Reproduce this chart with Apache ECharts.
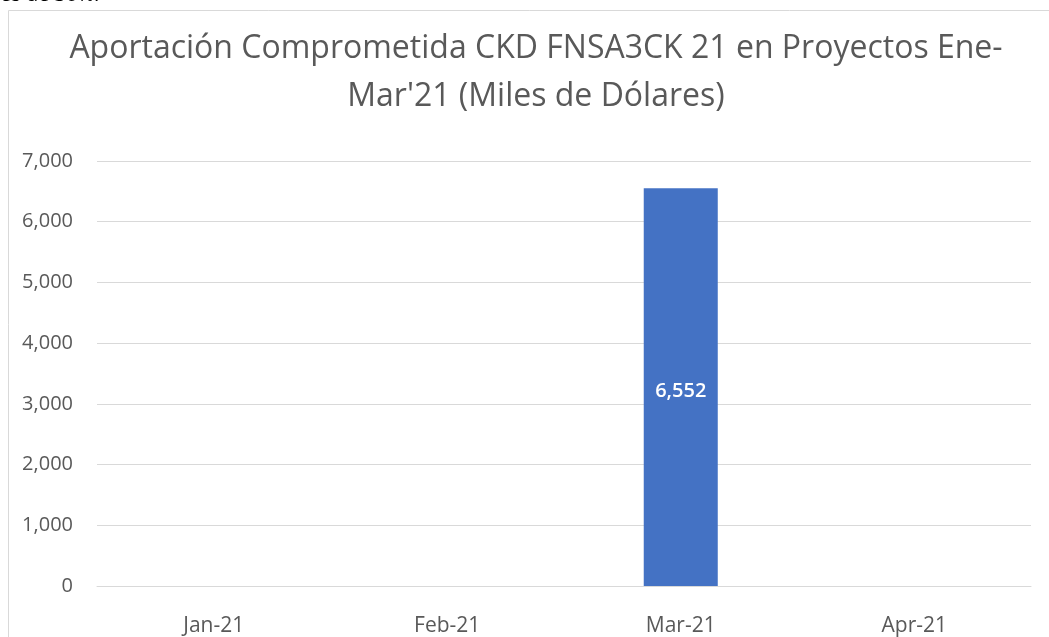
<!DOCTYPE html>
<html>
<head>
<meta charset="utf-8">
<script src="https://cdn.jsdelivr.net/npm/echarts@6/dist/echarts.min.js"></script>
<style>
  html, body { margin: 0; padding: 0; background: #fff; }
  #chart { width: 1049px; height: 637px; }
</style>
</head>
<body>
<div id="chart"></div>
<script>
// datos
const meses = ['Jan-21', 'Feb-21', 'Mar-21', 'Apr-21']
const aportacion = [null, null, 6552, null]
const titulo = 'Aportación Comprometida CKD FNSA3CK 21 en Proyectos Ene-\nMar\'21 (Miles de Dólares)'
const textoCortado = 'es de 30%.'

const chart = echarts.init(document.getElementById('chart'))
const gris = '#595959'
const fuente = '"Open Sans", "Noto Sans", sans-serif'

const option = {
  animation: false,
  textStyle: { fontFamily: fuente },
  title: {
    text: titulo,
    left: 531,
    textAlign: 'center',
    top: 20,
    textStyle: {
      fontFamily: fuente,
      fontSize: 32,
      fontWeight: 'normal',
      color: gris,
      lineHeight: 48
    }
  },
  graphic: [
    {
      type: 'rect',
      shape: { x: 8.5, y: 10.5, width: 1100, height: 700 },
      style: { fill: 'none', stroke: '#d9d9d9', lineWidth: 1 },
      silent: true
    },
    {
      type: 'text',
      left: 0,
      top: -15,
      style: { text: textoCortado, font: '20px "Open Sans", sans-serif', fill: '#000' }
    }
  ],
  grid: {
    left: 97,
    right: 18,
    top: 161,
    bottom: 51,
    containLabel: false
  },
  xAxis: {
    type: 'category',
    data: meses,
    axisLine: { lineStyle: { color: '#d9d9d9' } },
    axisTick: { show: false },
    axisLabel: { color: gris, fontSize: 21, margin: 30 }
  },
  yAxis: {
    type: 'value',
    min: 0,
    max: 7000,
    interval: 1000,
    axisLine: { show: false },
    axisTick: { show: false },
    splitLine: { lineStyle: { color: '#d9d9d9' } },
    axisLabel: {
      color: gris,
      fontSize: 20,
      margin: 24,
      formatter: v => v.toLocaleString('en-US')
    }
  },
  series: [
    {
      name: 'Aportación',
      type: 'bar',
      data: aportacion,
      barWidth: '31.7%',
      itemStyle: { color: '#4472c4' },
      label: {
        show: true,
        position: 'inside',
        offset: [0, 4],
        color: '#fff',
        fontSize: 20,
        fontWeight: 600,
        formatter: p => p.value.toLocaleString('en-US')
      }
    }
  ]
}

chart.setOption(option)
</script>
</body>
</html>
